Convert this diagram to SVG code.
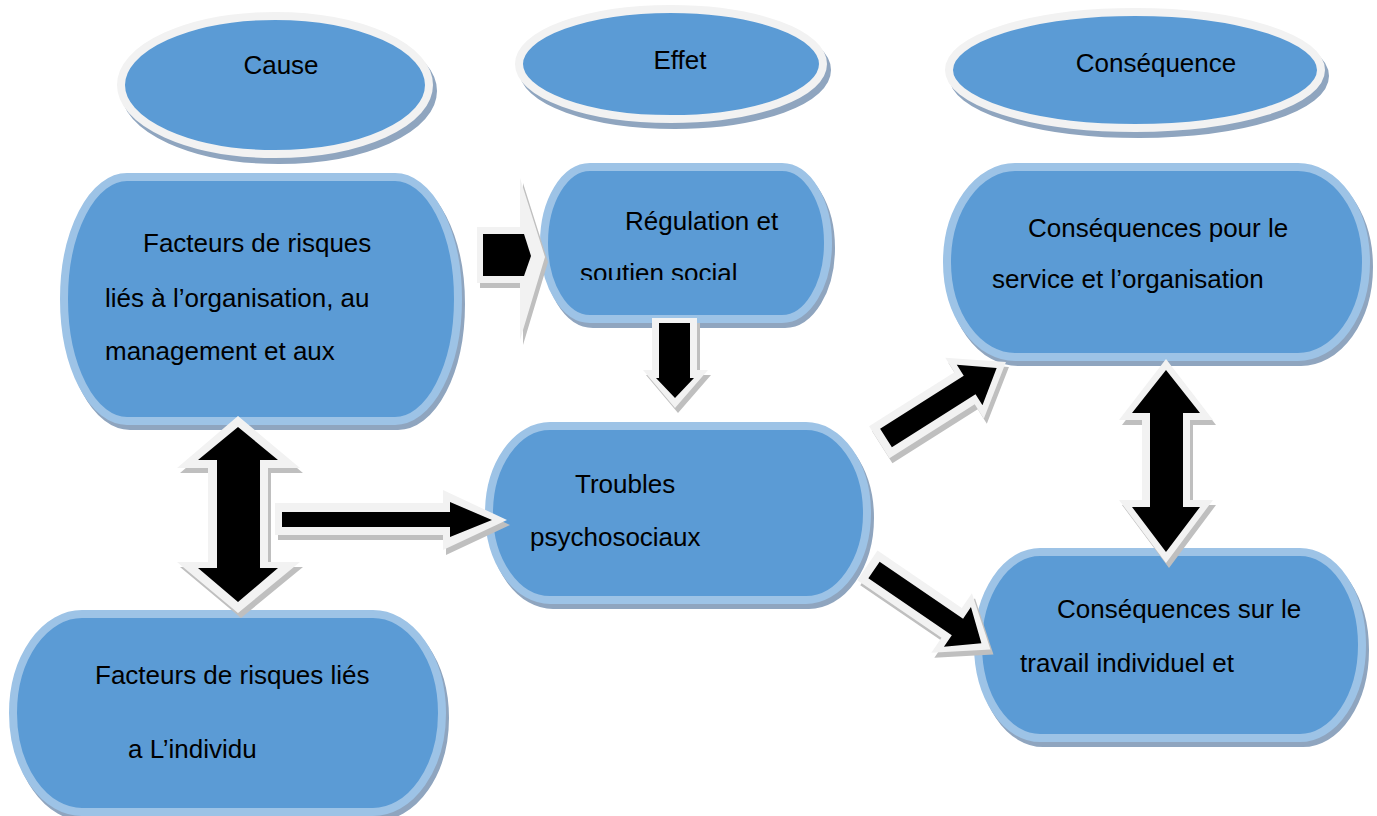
<svg xmlns="http://www.w3.org/2000/svg" width="1377" height="816" viewBox="0 0 1377 816">
<style>
.bg{fill:#ffffff}
.hdr{fill:#5B9BD5;stroke:#F2F2F2;stroke-width:8}
.hdrsh{fill:#8FA5BF;stroke:#8FA5BF;stroke-width:8}
.box{fill:#5B9BD5;stroke:#9DC3E6;stroke-width:8}
.boxsh{fill:#8FA5BF;stroke:#8FA5BF;stroke-width:8}
.t{font-family:"Liberation Sans",Arial,sans-serif;font-size:26px;fill:#000}
.tc{text-anchor:middle}
.al{fill:#F2F2F2}
.as{fill:#BFBFBF}
.ab{fill:#000}
</style>
<defs>
<clipPath id="clipB"><rect x="540" y="160" width="300" height="120"/></clipPath>
</defs>
<rect class="bg" x="0" y="0" width="1377" height="816"/>

<g id="hdr-cause">
<ellipse class="hdrsh" cx="279" cy="91" rx="154" ry="69"/>
<ellipse class="hdr" cx="275" cy="85" rx="154" ry="69"/>
<text class="t tc" x="281" y="74">Cause</text>
</g>
<g id="hdr-effet">
<ellipse class="hdrsh" cx="675" cy="70" rx="152" ry="55"/>
<ellipse class="hdr" cx="671" cy="64" rx="152" ry="55"/>
<text class="t tc" x="680" y="69">Effet</text>
</g>
<g id="hdr-consequence">
<ellipse class="hdrsh" cx="1139" cy="76" rx="186" ry="58"/>
<ellipse class="hdr" cx="1135" cy="70" rx="186" ry="58"/>
<text class="t tc" x="1156" y="72">Conséquence</text>
</g>

<g id="node-org">
<rect class="boxsh" x="67" y="182" width="394" height="244" rx="63" ry="122"/>
<rect class="box" x="64" y="177" width="394" height="244" rx="63" ry="122"/>
<text class="t" x="143" y="252">Facteurs de risques</text>
<text class="t" x="105" y="307">liés à l’organisation, au</text>
<text class="t" x="105" y="360">management et aux</text>
</g>
<g id="node-regulation">
<rect class="boxsh" x="547" y="172" width="284" height="152" rx="46" ry="76"/>
<rect class="box" x="544" y="167" width="284" height="152" rx="46" ry="76"/>
<text class="t" x="625" y="230">Régulation et</text>
<text class="t" x="580" y="282" clip-path="url(#clipB)">soutien social</text>
</g>
<g id="node-troubles">
<rect class="boxsh" x="492" y="431" width="378" height="174" rx="61" ry="87"/>
<rect class="box" x="489" y="426" width="378" height="174" rx="61" ry="87"/>
<text class="t" x="575" y="493">Troubles</text>
<text class="t" x="530" y="546">psychosociaux</text>
</g>
<g id="node-service">
<rect class="boxsh" x="950" y="172" width="419" height="190" rx="68" ry="95"/>
<rect class="box" x="947" y="167" width="419" height="190" rx="68" ry="95"/>
<text class="t" x="1028" y="237">Conséquences pour le</text>
<text class="t" x="992" y="288">service et l’organisation</text>
</g>
<g id="node-travail">
<rect class="boxsh" x="981" y="557" width="384" height="186" rx="62" ry="93"/>
<rect class="box" x="978" y="552" width="384" height="186" rx="62" ry="93"/>
<text class="t" x="1057" y="618">Conséquences sur le</text>
<text class="t" x="1020" y="672">travail individuel et</text>
</g>
<g id="node-individu">
<rect class="boxsh" x="16" y="619" width="429" height="198" rx="69" ry="99"/>
<rect class="box" x="13" y="614" width="429" height="198" rx="69" ry="99"/>
<text class="t" x="95" y="684">Facteurs de risques liés</text>
<text class="t" x="128" y="758">a L’individu</text>
</g>

<g id="connectors">
<g id="arrow-org-regulation">
<polygon class="as" transform="translate(3,5)" points="477,227 520,227 520,178 545,257 520,340 520,283 477,283"/>
<polygon class="al" points="477,227 520,227 520,178 545,257 520,340 520,283 477,283"/>
<polygon class="ab" points="483,234 524,234 531,256 524,276 483,276"/>
</g>
<g id="arrow-regulation-troubles">
<polygon class="as" transform="translate(3,5)" points="652,318 697,318 697,370 708,370 675,408 643,370 652,370"/>
<polygon class="al" points="652,318 697,318 697,370 708,370 675,408 643,370 652,370"/>
<polygon class="ab" points="659,323 690,323 690,378 694,378 675,398 656,378 659,378"/>
</g>
<g id="arrow-org-individu">
<polygon class="as" transform="translate(3,5)" points="238,416 300,468 268,468 268,562 300,562 238,613 177,562 208,562 208,468 177,468"/>
<polygon class="al" points="238,416 300,468 268,468 268,562 300,562 238,613 177,562 208,562 208,468 177,468"/>
<polygon class="ab" points="238,427 278,460 260,460 260,568 278,568 238,602 198,568 217,568 217,460 198,460"/>
</g>
<g id="arrow-to-troubles">
<polygon class="as" transform="translate(3,5)" points="275,503 443,503 443,490 507,520 443,550 443,535 275,535"/>
<polygon class="al" points="275,503 443,503 443,490 507,520 443,550 443,535 275,535"/>
<polygon class="ab" points="282,512 450,512 450,502 492,520 450,537 450,527 282,527"/>
</g>
<g id="arrow-troubles-service" transform="translate(886,438) rotate(-32.35)">
<polygon class="as" transform="rotate(32.35) translate(3,5) rotate(-32.35)" points="-8,-19 93,-19 93,-36 142,0 93,36 93,19 -8,19"/>
<polygon class="al" points="-8,-19 93,-19 93,-36 142,0 93,36 93,19 -8,19"/>
<polygon class="ab" points="0,-11 99,-11 99,-24 131,0 99,24 99,11 0,11"/>
</g>
<g id="arrow-troubles-travail" transform="translate(874,570) rotate(34.3)">
<polygon class="as" transform="rotate(-34.3) translate(3,5) rotate(34.3)" points="-8,-18 94,-18 94,-36 141,0 94,36 94,18 -8,18"/>
<polygon class="al" points="-8,-18 94,-18 94,-36 141,0 94,36 94,18 -8,18"/>
<polygon class="ab" points="0,-10 101,-10 101,-24 130,0 101,24 101,10 0,10"/>
</g>
<g id="arrow-service-travail">
<polygon class="as" transform="translate(3,5)" points="1166,359 1213,420 1190,420 1190,500 1213,500 1166,563 1119,500 1142,500 1142,420 1119,420"/>
<polygon class="al" points="1166,359 1213,420 1190,420 1190,500 1213,500 1166,563 1119,500 1142,500 1142,420 1119,420"/>
<polygon class="ab" points="1166,370 1200,413 1183,413 1183,507 1200,507 1166,552 1132,507 1150,507 1150,413 1132,413"/>
</g>
</g>
</svg>
